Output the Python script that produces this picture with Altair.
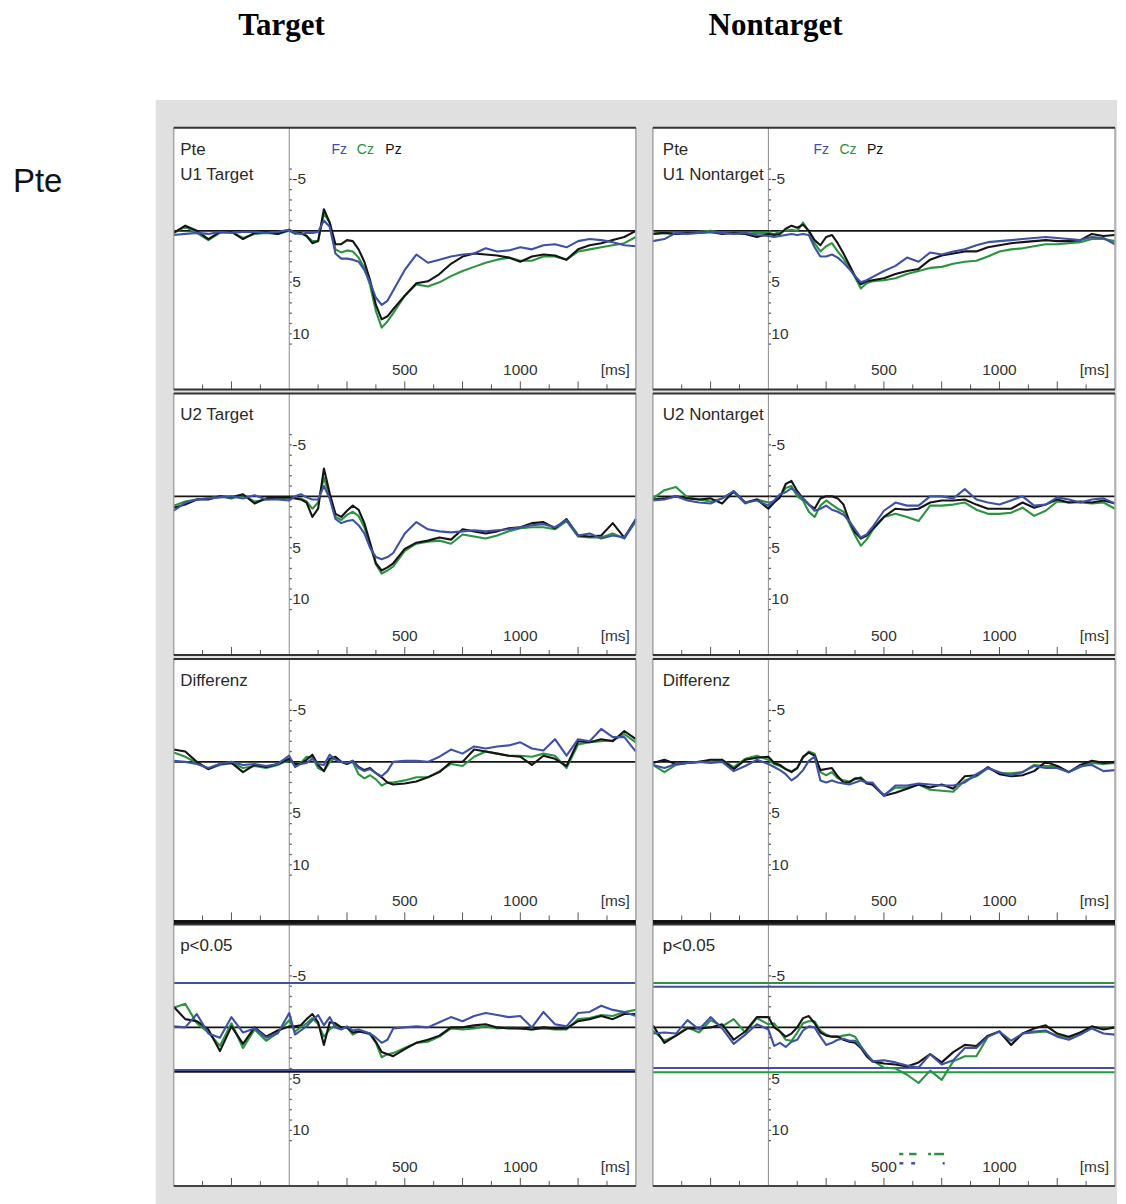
import altair as alt
import pandas as pd

# ---------------- data ----------------
times = [-500, -450, -400, -350, -300, -250, -200, -150, -100, -50, 0,
         25, 50, 75, 100, 125, 150, 175, 200, 225, 250, 275, 300, 325, 350, 375, 400, 425, 450,
         500, 550, 600, 650, 700, 750, 800, 850, 900, 950, 1000, 1050, 1100, 1150, 1200, 1250,
         1300, 1350, 1400, 1450, 1500]

# U1 Target
u1t_fz = [0.4, 0.3, 0.2, 0.3, 0.1, 0.2, 0.1, 0.1, 0.2, 0.1, -0.1,
          0.2, 0.3, 0.2, 0.2, 0.1, -1.0, -0.4, 2.2, 2.7, 2.7, 2.8, 3.0, 3.8, 5.0, 6.5, 7.2, 6.8, 5.8,
          3.8, 2.3, 3.1, 2.8, 2.5, 2.3, 2.2, 1.7, 2.0, 1.9, 1.6, 1.8, 1.4, 1.3, 1.6, 1.0, 0.8, 0.9, 1.1, 1.4, 1.5]
u1t_cz = [0.2, -0.4, 0.2, 0.9, 0.2, 0.1, 0.7, 0.3, 0.2, 0.3, 0.0,
          0.3, 0.2, 0.5, 1.0, 1.0, -1.7, -0.8, 1.8, 2.1, 1.9, 2.0, 2.6, 3.6, 5.3, 7.8, 9.4, 8.8, 8.0,
          6.3, 5.2, 5.4, 5.0, 4.4, 3.9, 3.5, 3.1, 2.8, 2.6, 2.9, 2.9, 2.5, 2.5, 2.8, 2.0, 1.8, 1.6, 1.4, 1.2, 0.6]
u1t_pz = [0.2, -0.5, 0.0, 0.8, 0.1, 0.1, 0.8, 0.2, 0.1, 0.3, -0.1,
          0.2, 0.2, 0.5, 1.2, 1.0, -2.1, -0.8, 1.3, 1.3, 0.9, 1.0, 1.8, 3.0, 4.8, 7.2, 8.6, 8.3, 7.6,
          6.3, 5.1, 4.9, 4.2, 3.2, 2.5, 2.2, 2.3, 2.4, 2.6, 3.0, 2.5, 2.3, 2.4, 2.8, 1.8, 1.4, 1.2, 0.9, 0.6, 0.0]

# U1 Nontarget
u1n_fz = [1.0, 0.8, 0.2, 0.3, 0.2, 0.1, 0.2, 0.3, 0.2, 0.4, 0.5,
          0.6, 0.5, 0.4, 0.3, 0.4, 0.3, 0.4, 1.6, 2.5, 2.5, 2.3, 2.6, 3.1, 3.7, 4.4, 5.0, 4.8, 4.5,
          3.9, 3.4, 2.6, 3.0, 2.1, 2.3, 2.0, 1.8, 1.4, 1.1, 1.0, 0.9, 0.8, 0.7, 0.6, 0.7, 0.8, 0.9, 0.6, 0.7, 1.3]
u1n_cz = [0.3, 0.2, 0.3, 0.2, 0.1, 0.0, 0.2, 0.2, 0.3, 0.2, 0.2,
          0.3, 0.1, 0.0, -0.1, 0.0, -0.8, 0.1, 1.2, 2.0, 1.5, 1.2, 2.0, 2.7, 3.5, 4.5, 5.6, 5.1, 4.9,
          4.8, 4.6, 4.2, 3.9, 3.6, 3.5, 3.2, 3.0, 2.9, 2.5, 2.0, 1.8, 1.7, 1.5, 1.3, 1.3, 1.2, 1.1, 0.8, 0.8, 1.0]
u1n_pz = [0.3, 0.2, 0.3, 0.2, 0.2, 0.1, 0.3, 0.2, 0.3, 0.6, 0.3,
          0.4, 0.3, -0.2, -0.5, -0.3, -0.6, 0.0, 0.9, 1.4, 0.6, 0.4, 1.2, 2.2, 3.3, 4.4, 5.2, 4.9, 4.8,
          4.6, 4.2, 3.9, 3.7, 2.8, 2.4, 2.2, 2.0, 2.0, 1.6, 1.4, 1.2, 1.1, 1.0, 0.9, 1.0, 1.0, 0.9, 0.3, 0.5, 0.4]

# U2 Target
u2t_fz = [1.4, 0.6, 0.3, 0.2, 0.1, 0.0, 0.2, -0.1, 0.3, 0.3, 0.4,
          0.0, -0.2, 0.1, 0.3, 0.3, -1.0, 0.2, 2.2, 2.6, 2.4, 2.3, 2.8, 3.6, 5.0, 5.9, 6.1, 5.9, 5.5,
          3.6, 2.5, 3.2, 3.4, 3.5, 3.4, 3.3, 3.4, 3.3, 3.2, 3.0, 2.8, 2.7, 3.0, 2.3, 3.8, 3.6, 4.1, 3.8, 4.0, 2.3]
u2t_cz = [0.9, 0.5, 0.3, 0.2, 0.0, 0.2, -0.1, 0.5, 0.3, 0.2, 0.2,
          0.1, 0.2, 0.5, 1.2, 0.6, -1.8, 0.0, 2.0, 2.3, 1.8, 1.5, 1.9, 3.0, 4.8, 6.6, 7.5, 7.2, 6.8,
          5.3, 4.6, 4.4, 4.3, 4.6, 3.7, 3.9, 4.1, 3.8, 3.4, 3.1, 3.0, 3.0, 3.2, 2.4, 3.9, 4.0, 4.0, 3.6, 4.1, 2.4]
u2t_pz = [1.1, 0.8, 0.3, 0.3, 0.0, 0.1, -0.2, 0.7, 0.2, 0.1, 0.1,
          0.2, 0.3, 0.6, 2.0, 1.2, -2.7, -0.3, 1.7, 2.0, 1.4, 0.9, 1.3, 2.6, 4.5, 6.5, 7.2, 6.9, 6.5,
          5.1, 4.5, 4.3, 4.0, 4.2, 3.2, 3.4, 3.6, 3.4, 3.1, 3.0, 2.6, 2.5, 3.1, 2.2, 3.8, 3.9, 3.8, 2.6, 4.0, 2.2]

# U2 Nontarget
u2n_fz = [0.4, 0.3, 0.0, 0.4, 0.6, 0.7, 0.2, -0.5, 0.6, 0.4, 0.9,
          0.4, -0.2, -0.4, -0.8, -0.3, 0.2, 0.8, 1.4, 1.2, 0.9, 1.3, 1.5, 1.8, 2.4, 3.2, 4.0, 3.7, 3.0,
          1.4, 0.6, 0.9, 0.9, 0.0, 0.0, 0.2, -0.7, 0.3, 0.6, 0.8, 0.4, 0.0, 0.9, 0.8, 0.1, 0.3, 0.6, 0.3, 0.2, 0.7]
u2n_cz = [0.2, -0.6, -0.9, 0.1, 0.3, 0.5, 0.2, -0.4, 0.7, 0.3, 0.6,
          0.5, 0.0, -0.8, -1.0, 0.0, 0.4, 1.5, 2.0, 0.9, 0.4, 0.8, 1.2, 1.5, 2.6, 3.8, 4.8, 4.2, 3.3,
          2.0, 1.7, 2.0, 2.4, 0.9, 0.9, 0.8, 0.6, 1.3, 1.7, 1.7, 1.6, 1.1, 1.9, 1.4, 0.5, 0.6, 0.6, 0.7, 0.6, 1.2]
u2n_pz = [0.3, 0.2, 0.0, 0.2, 0.3, 0.2, 0.7, -0.5, 0.6, 0.3, 1.2,
          0.6, 0.1, -1.2, -1.5, -0.5, 0.2, 0.8, 1.2, 0.2, 0.0, 0.0, 0.2, 0.8, 2.4, 3.5, 4.1, 3.8, 3.2,
          2.0, 1.2, 1.3, 1.2, 0.6, 0.4, 0.4, 0.3, 0.8, 1.2, 1.2, 1.2, 0.6, 1.1, 0.8, 0.3, 0.6, 0.5, 0.6, 0.4, 0.7]

# Differenz Target
dt_fz = [-0.1, 0.0, 0.2, 0.6, 0.2, 0.0, 0.3, 0.2, 0.4, 0.2, -0.6,
         0.5, 0.2, 0.1, -0.3, 0.2, 0.3, -0.7, -0.2, 0.0, 0.1, -0.1, 0.6, 0.9, 0.7, 1.1, 1.4, 0.9, 0.0,
         -0.1, -0.1, 0.0, -0.5, -1.2, -0.8, -1.5, -1.3, -1.5, -1.6, -1.9, -1.3, -1.1, -2.2, -0.6, -2.2, -2.0, -3.2, -2.4, -2.4, -1.0]
dt_cz = [-0.9, -0.5, 0.1, 0.7, 0.3, 0.1, 0.6, 0.4, 0.6, 0.3, -0.2,
         0.3, 0.1, -0.5, -0.4, 0.6, 0.9, 0.0, -0.4, 0.0, 0.2, 0.0, 1.2, 1.6, 1.3, 1.7, 2.3, 2.0, 2.0,
         1.8, 1.5, 1.5, 0.9, 0.2, 0.4, -0.5, -1.0, -0.8, -0.6, -0.6, -0.5, -0.8, -0.6, 0.6, -1.7, -1.9, -2.0, -2.1, -2.7, -1.9]
dt_pz = [-1.2, -1.0, 0.0, 0.7, 0.2, 0.1, 1.0, 0.3, 0.5, 0.2, -0.3,
         0.2, 0.2, -0.2, -0.7, 0.3, 0.9, -0.3, -0.5, 0.0, 0.2, -0.1, 0.5, 0.8, 0.6, 1.1, 1.5, 2.0, 2.2,
         2.1, 1.9, 1.5, 1.0, 0.0, 0.0, -1.2, -1.0, -0.8, -0.6, -0.5, 0.3, -0.6, -0.3, 0.4, -2.0, -1.9, -2.2, -2.0, -3.0, -2.2]

# Differenz Nontarget
dn_fz = [0.3, 0.6, 0.2, 0.1, 0.0, 0.1, 0.0, 0.9, 0.4, -0.2, 0.2,
         0.5, 0.8, 1.2, 1.8, 1.4, 0.8, -0.1, -0.5, 1.8, 2.0, 1.8, 2.0, 2.1, 2.2, 2.0, 1.8, 2.0, 2.0,
         3.3, 2.3, 2.3, 2.1, 2.2, 2.3, 2.3, 2.0, 1.2, 0.6, 1.0, 1.3, 1.0, 0.4, 0.6, 0.6, 1.0, 0.4, 0.3, 0.9, 0.8]
dn_cz = [0.3, 1.0, 0.3, 0.1, 0.0, 0.0, -0.2, 0.5, -0.3, -0.6, -0.2,
         0.2, 0.4, 0.7, 0.9, 0.6, -0.4, -1.0, -0.8, 1.0, 1.3, 1.0, 1.6, 1.8, 1.9, 1.7, 1.5, 2.0, 2.2,
         3.2, 2.5, 2.5, 2.2, 2.7, 2.8, 2.9, 1.8, 1.4, 0.6, 1.1, 1.1, 1.0, 0.3, 0.4, 0.4, 1.0, 0.5, 0.1, 0.2, 0.1]
dn_pz = [0.1, -0.2, 0.2, 0.1, 0.0, -0.2, -0.2, 0.7, -0.2, -0.4, -0.5,
         0.1, 0.3, 0.7, 1.0, 0.6, -0.5, -0.9, -0.6, 0.8, 0.7, 0.6, 1.4, 2.0, 2.0, 1.6, 1.6, 2.1, 2.2,
         3.3, 3.0, 2.6, 2.2, 2.5, 2.2, 2.6, 1.4, 1.3, 0.5, 1.2, 1.4, 1.3, 0.9, 0.0, 0.4, 1.0, 0.3, -0.1, 0.1, 0.0]

# p<0.05 Target
pt_fz = [-0.1, 0.0, -1.3, 0.6, 1.0, -1.0, 0.5, 0.1, 1.0, 0.6, -1.4,
         0.7, 0.3, -0.1, -0.7, -1.2, -0.2, -1.0, 0.0, 0.2, -0.1, 0.3, 0.2, 0.4, 0.6, 1.0, 1.5, 1.2, 0.1,
         0.0, -0.1, 0.0, -0.5, -1.0, -0.6, -1.1, -1.4, -1.2, -1.0, -1.1, 0.0, -1.5, -0.3, -0.1, -1.4, -1.5, -2.1, -1.7, -1.5, -1.1]
pt_cz = [-1.9, -2.3, -0.4, 0.5, 1.8, -0.4, 2.0, 0.2, 1.3, 0.5, -0.7,
         0.4, 0.0, -0.4, -0.9, -0.3, 0.9, 0.2, -0.2, 0.0, 0.0, 0.7, 0.4, 0.5, 0.7, 1.5, 2.9, 2.6, 2.5,
         2.0, 1.5, 1.4, 0.9, 0.1, 0.2, 0.1, -0.1, 0.1, 0.0, 0.1, 0.2, 0.1, 0.2, 0.2, -0.8, -0.9, -1.2, -1.1, -1.5, -1.7]
pt_pz = [-2.0, -0.8, -0.6, 0.2, 2.3, -0.1, 1.6, 0.0, 0.9, 0.3, -0.1,
         -0.1, -0.2, -0.8, -1.3, -0.5, 1.7, -0.5, -0.4, 0.0, 0.0, 0.5, 0.4, 0.5, 0.6, 1.4, 2.4, 2.6, 2.8,
         2.1, 1.5, 1.2, 0.8, 0.0, 0.0, -0.2, -0.3, 0.0, 0.1, 0.1, 0.2, 0.0, 0.1, 0.1, -0.6, -0.8, -1.1, -0.8, -1.3, -1.3]

# p<0.05 Nontarget
pn_fz = [0.6, 0.5, 0.6, -0.7, 0.2, -1.0, 0.1, 1.6, 0.7, -0.3, 0.2,
         1.8, 1.5, 1.9, 1.4, 1.2, 0.3, -0.1, 0.0, 0.9, 1.7, 1.5, 1.2, 1.1, 1.3, 1.3, 1.9, 2.6, 3.3,
         3.2, 3.4, 3.7, 3.9, 2.6, 3.6, 3.2, 2.0, 2.0, 0.9, 0.4, 1.3, 0.6, 0.4, 0.3, 0.9, 1.2, 0.7, 0.1, 0.6, 0.7]
pn_cz = [0.3, 1.3, 0.8, 0.0, 0.5, -0.7, -0.1, -0.8, 0.5, -0.9, -0.3,
         -0.4, 0.4, 1.2, 1.3, 0.5, -0.4, -0.6, -0.6, 0.3, 0.7, 0.9, 0.9, 0.8, 0.7, 0.9, 1.8, 2.6, 3.2,
         3.9, 4.0, 4.6, 5.4, 4.2, 5.1, 3.3, 2.8, 2.8, 0.9, 0.4, 1.7, 0.6, 0.5, 0.4, 0.8, 1.0, 0.5, 0.0, 0.1, 0.0]
pn_pz = [-0.2, 1.5, 0.8, 0.1, 0.1, 0.0, -0.3, 1.2, 0.4, -1.0, -1.0,
         0.0, 0.4, 0.9, 0.6, 0.0, -0.9, -1.1, -0.4, 0.5, 0.8, 0.9, 0.9, 1.2, 1.4, 1.5, 2.0, 2.8, 3.3,
         3.5, 3.6, 3.8, 3.4, 2.6, 3.4, 2.4, 1.7, 1.8, 0.8, 0.4, 1.7, 0.6, 0.1, -0.2, 0.6, 0.9, 0.5, -0.1, 0.2, 0.0]

# significance thresholds (µV) and significant intervals (ms)
thr_target_ch = ["Pz", "Fz", "Fz"]
thr_target_uv = [4.25, 4.15, -4.3]
thr_nontarget_ch = ["Cz", "Fz", "Fz", "Cz"]
thr_nontarget_uv = [-4.3, -3.95, 3.95, 4.35]
sig_ch = ["Cz", "Cz", "Cz", "Cz", "Fz", "Fz", "Fz"]
sig_start = [566, 609, 691, 717, 567, 618, 754]
sig_end = [584, 641, 704, 760, 584, 635, 763]
sig_level = [12.3, 12.3, 12.3, 12.3, 13.2, 13.2, 13.2]

# axis ticks and labels
x_tick_short = [-375, -125, 125, 375, 625, 875, 1125, 1375]
x_tick_long = [-250, 250, 500, 750, 1000, 1250]
x_label_ms = [500, 1000]
x_label_txt = ["500", "1000"]
y_tick_uv = list(range(-6, 12))
y_label_uv = [-5, 5, 10]
y_label_txt = ["-5", "5", "10"]

# ---------------- styling ----------------
BLUE = "#3f51a5"
GREEN = "#2b9440"
BLACK = "#151515"
CH_COLORS = {"Fz": BLUE, "Cz": GREEN, "Pz": BLACK}
GRAY_BG = "#e0e0e0"
FONT = "Liberation Sans"
W, H = 463, 262
X0PX = W * 500 / 2000.0

XS = alt.Scale(domain=[-500, 1500], nice=False, zero=False)
YS = alt.Scale(domain=[-10, 15.4], reverse=True, nice=False, zero=False)
CS = alt.Scale(domain=["Fz", "Cz", "Pz"], range=[BLUE, GREEN, BLACK])
ONE = pd.DataFrame({"k": [0]})

XLAB = pd.DataFrame({"ms": x_label_ms, "lab": x_label_txt})
YLAB = pd.DataFrame({"uv": y_label_uv, "lab": y_label_txt})
YTICK = pd.DataFrame({"uv": y_tick_uv})


def series_df(fz, cz, pz):
    rows = []
    for name, vals in (("Fz", fz), ("Cz", cz), ("Pz", pz)):
        if len(vals) != len(times):
            raise ValueError(f"length mismatch {name}: {len(vals)}")
        for t, v in zip(times, vals):
            rows.append({"ms": t, "uv": v, "ch": name})
    return pd.DataFrame(rows)


def txt(s, x, y, size=17, color="#2a2a2a", align="left", font=FONT, weight="normal"):
    return alt.Chart(ONE).mark_text(
        text=s, align=align, baseline="alphabetic", fontSize=size, font=font,
        color=color, fontWeight=weight
    ).encode(x=alt.value(x), y=alt.value(y))


def box(x1, x2, y1, y2, color):
    return alt.Chart(ONE).mark_rect(color=color).encode(
        x=alt.value(x1), x2=alt.value(x2), y=alt.value(y1), y2=alt.value(y2))


def hrule(y, color, width, x1=0, x2=W):
    return alt.Chart(ONE).mark_rule(color=color, strokeWidth=width).encode(
        x=alt.value(x1), x2=alt.value(x2), y=alt.value(y))


def vrule(x, color, width):
    return alt.Chart(ONE).mark_rule(color=color, strokeWidth=width).encode(
        x=alt.value(x), y=alt.value(0), y2=alt.value(H))


def panel(df, labels, col, row, legend=False, thr=None, sig=None, pre=None, post=None):
    layers = list(pre or [])
    layers.append(box(0, W, 0, H, "white"))
    lx = 6.5 if col == 0 else 10
    # 0 ms line
    layers.append(alt.Chart(pd.DataFrame({"ms": [0]})).mark_rule(color="#8a8a8a", strokeWidth=1).encode(
        x=alt.X("ms:Q", scale=XS, axis=None)))
    # 0 µV line
    layers.append(alt.Chart(pd.DataFrame({"uv": [0]})).mark_rule(color=BLACK, strokeWidth=1.6).encode(
        y=alt.Y("uv:Q", scale=YS, axis=None)))
    # time axis: ticks at the bottom edge, labels inside
    layers.append(alt.Chart(pd.DataFrame({"ms": x_tick_short})).mark_rule(color="#555", strokeWidth=1).encode(
        x=alt.X("ms:Q", scale=XS, axis=None), y=alt.value(H), y2=alt.value(H - 5)))
    layers.append(alt.Chart(pd.DataFrame({"ms": x_tick_long})).mark_rule(color="#555", strokeWidth=1).encode(
        x=alt.X("ms:Q", scale=XS, axis=None), y=alt.value(H), y2=alt.value(H - 8)))
    layers.append(alt.Chart(XLAB).mark_text(
        align="center", baseline="alphabetic", fontSize=15.5, font=FONT, color="#333").encode(
        x=alt.X("ms:Q", scale=XS, axis=None), y=alt.value(H - 14), text="lab:N"))
    layers.append(txt("[ms]", W - 6, H - 14, size=15.5, color="#333", align="right"))
    # voltage axis at 0 ms: dotted ticks + labels
    layers.append(alt.Chart(YTICK).mark_rule(color="#555", strokeWidth=1.3).encode(
        x=alt.value(X0PX + 0.5), x2=alt.value(X0PX + 2.5), y=alt.Y("uv:Q", scale=YS, axis=None)))
    layers.append(alt.Chart(YLAB).mark_text(
        align="left", baseline="middle", fontSize=15.5, font=FONT, color="#333").encode(
        x=alt.value(X0PX + 3), y=alt.Y("uv:Q", scale=YS, axis=None), text="lab:N"))
    if thr is not None:
        for ch, uv in zip(thr[0], thr[1]):
            w = 3.2 if ch == "Pz" else 2
            layers.append(alt.Chart(pd.DataFrame({"uv": [uv]})).mark_rule(
                color=CH_COLORS[ch], strokeWidth=w).encode(
                y=alt.Y("uv:Q", scale=YS, axis=None)))
    for ch in ("Cz", "Pz", "Fz"):
        layers.append(alt.Chart(df[df.ch == ch]).mark_line(
            color=CH_COLORS[ch], strokeWidth=2.1, strokeJoin="round").encode(
            x=alt.X("ms:Q", scale=XS, axis=None), y=alt.Y("uv:Q", scale=YS, axis=None)))
    if sig is not None:
        layers.append(alt.Chart(sig).mark_rule(strokeWidth=2.5).encode(
            x=alt.X("ms:Q", scale=XS, axis=None), x2="ms_end:Q",
            y=alt.Y("uv:Q", scale=YS, axis=None),
            color=alt.Color("ch:N", scale=CS, legend=None)))
    for i, s in enumerate(labels):
        layers.append(txt(s, lx, 27 + 25.5 * i))
    if legend:
        lxs = (158, 183.5, 212) if col == 0 else (161, 187, 214.5)
        for name, xx in zip(("Fz", "Cz", "Pz"), lxs):
            layers.append(txt(name, xx, 26, size=14, color=CH_COLORS[name]))
    # borders
    layers.append(vrule(0, "#a5a5a5", 1.5))
    layers.append(vrule(W, "#a5a5a5", 1.5))
    layers.append(hrule(0, "#333", 2))
    if row == 2:
        layers.append(hrule(H + 2, "#111", 5))
    elif row == 3:
        layers.append(hrule(H, "#444", 2))
    else:
        layers.append(hrule(H, "#333", 2))
    layers += list(post or [])
    return alt.layer(*layers).properties(width=W, height=H)


# Page extent (white) and grey figure frame, drawn from the first panel before everything else.
RIGHT = 945   # canvas right edge in first-panel coordinates (keeps the canvas 1110 px wide)
p1_pre = [
    box(-165, RIGHT, -118, 1078, "white"),
    box(-18, RIGHT, -28, 1078, GRAY_BG),
]
p1_post = [
    txt("Target", 108, -93, size=31, color="black", align="center", font="Liberation Serif", weight="bold"),
    txt("Pte", -161, 64, size=33, color="#111"),
]
p2_post = [
    txt("Nontarget", 123, -93, size=31, color="black", align="center", font="Liberation Serif", weight="bold"),
]

sig_df = pd.DataFrame({"ch": sig_ch, "ms": sig_start, "ms_end": sig_end, "uv": sig_level})

panels = [
    panel(series_df(u1t_fz, u1t_cz, u1t_pz), ["Pte", "U1 Target"], 0, 0, legend=True, pre=p1_pre, post=p1_post),
    panel(series_df(u1n_fz, u1n_cz, u1n_pz), ["Pte", "U1 Nontarget"], 1, 0, legend=True, post=p2_post),
    panel(series_df(u2t_fz, u2t_cz, u2t_pz), ["U2 Target"], 0, 1),
    panel(series_df(u2n_fz, u2n_cz, u2n_pz), ["U2 Nontarget"], 1, 1),
    panel(series_df(dt_fz, dt_cz, dt_pz), ["Differenz"], 0, 2),
    panel(series_df(dn_fz, dn_cz, dn_pz), ["Differenz"], 1, 2),
    panel(series_df(pt_fz, pt_cz, pt_pz), ["p<0.05"], 0, 3, thr=(thr_target_ch, thr_target_uv)),
    panel(series_df(pn_fz, pn_cz, pn_pz), ["p<0.05"], 1, 3, thr=(thr_nontarget_ch, thr_nontarget_uv), sig=sig_df),
]

chart = alt.concat(*panels, columns=2, spacing={"row": 4, "column": 17}, bounds="flush").properties(
    padding=0
).configure_view(strokeWidth=0).configure(font=FONT, background="white")

chart.save("out.html", embed_options={"renderer": "svg", "actions": False})
